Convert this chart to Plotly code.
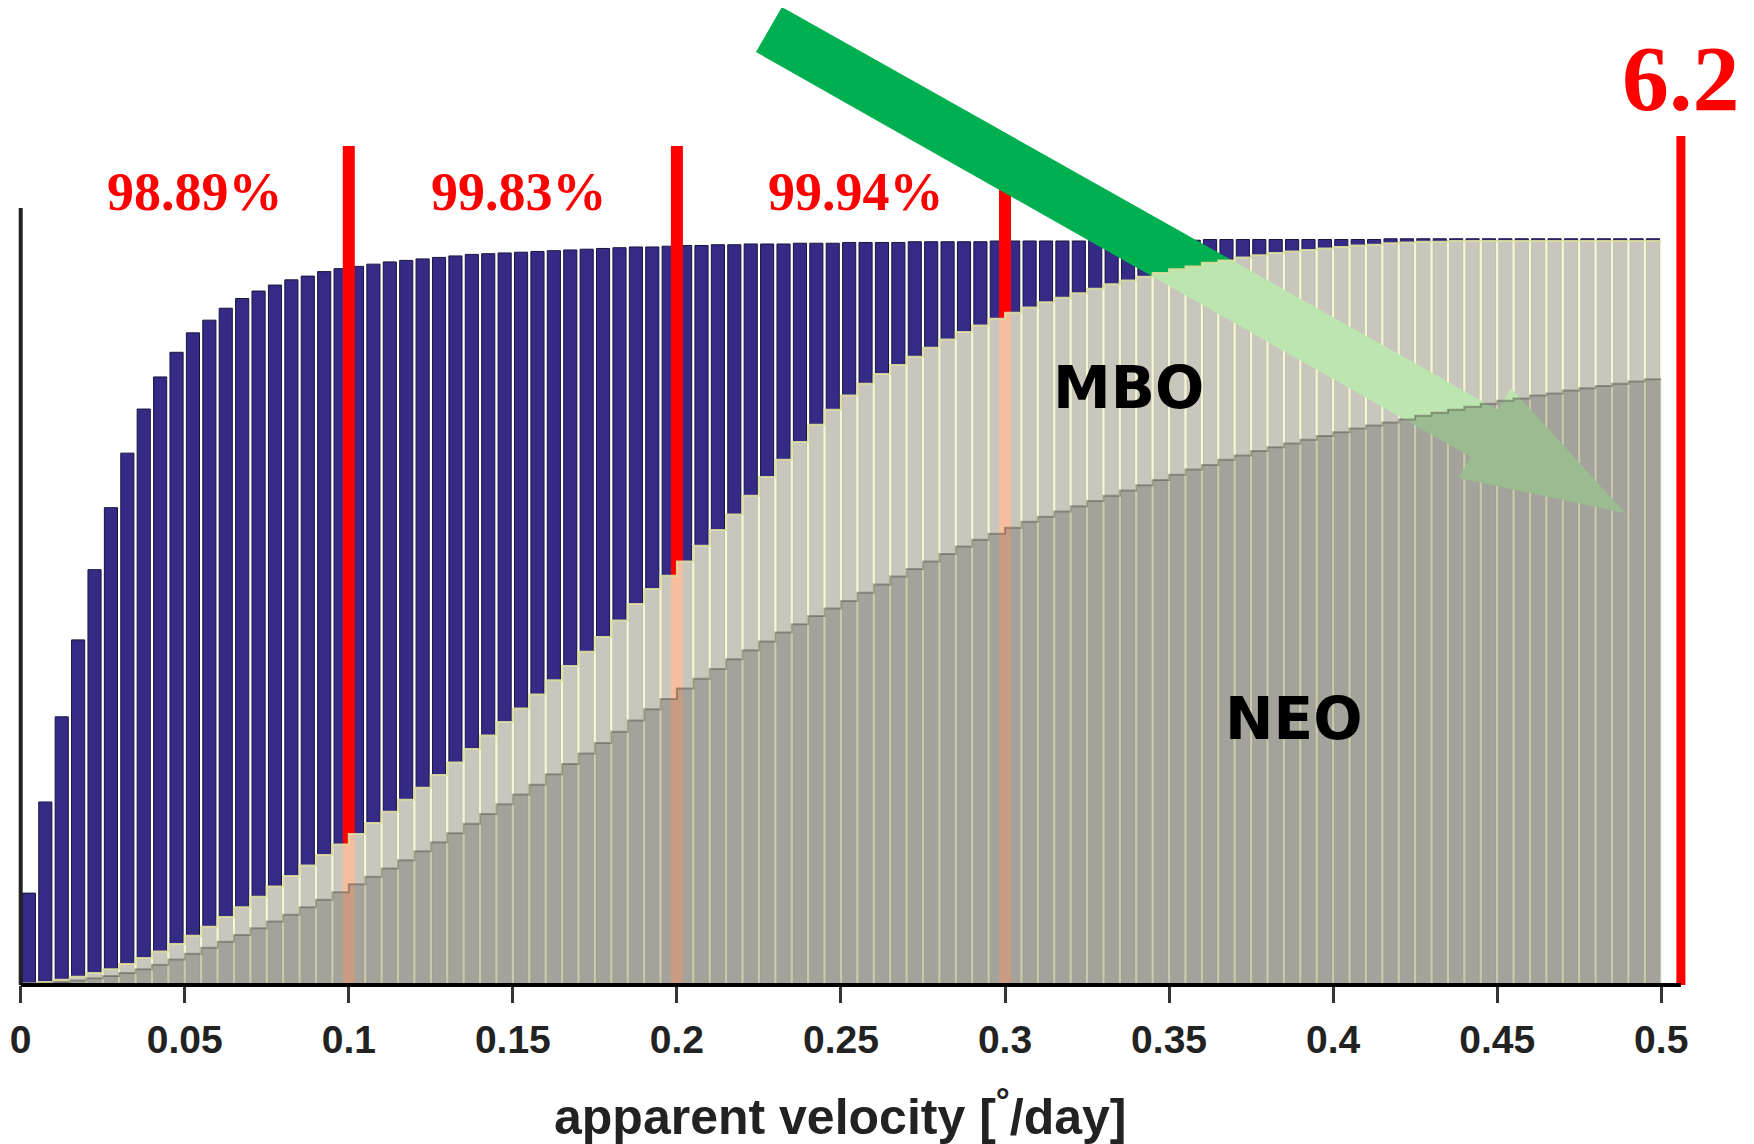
import plotly.graph_objects as go

# ---------------- data (cumulative fractions per 0.005 deg/day bin) ----------------
bin_width = 0.005
n_bins = 100

all_objects = [
    0.123, 0.245, 0.359, 0.462, 0.556, 0.639, 0.712, 0.771, 0.814, 0.847,
    0.873, 0.890, 0.906, 0.919, 0.929, 0.937, 0.944, 0.949, 0.955, 0.959,
    0.962, 0.965, 0.968, 0.970, 0.972, 0.974, 0.976, 0.978, 0.979, 0.980,
    0.981, 0.982, 0.983, 0.984, 0.985, 0.986, 0.987, 0.988, 0.988, 0.989,
    0.990, 0.990, 0.991, 0.991, 0.992, 0.992, 0.992, 0.993, 0.993, 0.993,
    0.994, 0.994, 0.994, 0.994, 0.995, 0.995, 0.995, 0.995, 0.995, 0.996,
    0.996, 0.996, 0.996, 0.996, 0.996, 0.997, 0.997, 0.997, 0.997, 0.997,
    0.997, 0.997, 0.998, 0.998, 0.998, 0.998, 0.998, 0.998, 0.998, 0.998,
    0.998, 0.998, 0.998, 0.999, 0.999, 0.999, 0.999, 0.999, 0.999, 0.999,
    0.999, 0.999, 0.999, 0.999, 0.999, 0.999, 0.999, 0.999, 0.999, 0.999,
]

mbo = [
    0.002, 0.004, 0.007, 0.011, 0.016, 0.021, 0.028, 0.036, 0.045, 0.055,
    0.066, 0.078, 0.091, 0.104, 0.118, 0.132, 0.146, 0.160, 0.174, 0.188,
    0.202, 0.217, 0.232, 0.248, 0.264, 0.281, 0.298, 0.316, 0.334, 0.352,
    0.370, 0.389, 0.408, 0.427, 0.446, 0.466, 0.488, 0.510, 0.530, 0.548,
    0.567, 0.588, 0.609, 0.630, 0.655, 0.680, 0.703, 0.727, 0.750, 0.770,
    0.789, 0.805, 0.818, 0.830, 0.841, 0.853, 0.864, 0.874, 0.883, 0.892,
    0.900, 0.907, 0.914, 0.920, 0.926, 0.932, 0.938, 0.943, 0.948, 0.953,
    0.958, 0.962, 0.967, 0.970, 0.974, 0.977, 0.980, 0.982, 0.984, 0.986,
    0.988, 0.990, 0.991, 0.993, 0.994, 0.995, 0.995, 0.996, 0.996, 0.996,
    0.996, 0.996, 0.996, 0.996, 0.996, 0.996, 0.996, 0.996, 0.996, 0.996,
]

neo = [
    0.001, 0.002, 0.004, 0.006, 0.009, 0.012, 0.016, 0.021, 0.027, 0.034,
    0.042, 0.050, 0.058, 0.067, 0.076, 0.085, 0.094, 0.104, 0.114, 0.124,
    0.135, 0.145, 0.156, 0.167, 0.179, 0.191, 0.203, 0.216, 0.229, 0.242,
    0.255, 0.268, 0.282, 0.296, 0.310, 0.324, 0.339, 0.354, 0.369, 0.383,
    0.397, 0.410, 0.423, 0.436, 0.448, 0.460, 0.472, 0.483, 0.494, 0.504,
    0.514, 0.525, 0.536, 0.547, 0.557, 0.567, 0.577, 0.587, 0.596, 0.604,
    0.612, 0.620, 0.627, 0.634, 0.641, 0.648, 0.655, 0.662, 0.669, 0.676,
    0.683, 0.690, 0.696, 0.703, 0.709, 0.715, 0.720, 0.725, 0.730, 0.735,
    0.740, 0.745, 0.749, 0.753, 0.757, 0.762, 0.766, 0.770, 0.774, 0.778,
    0.782, 0.785, 0.789, 0.792, 0.796, 0.799, 0.802, 0.805, 0.808, 0.811,
]

thresholds = [0.1, 0.2, 0.3]
threshold_labels = ["98.89%", "99.83%", "99.94%"]
cutoff = 0.506
cutoff_label = "6.2"

tick_vals = [0, 0.05, 0.1, 0.15, 0.2, 0.25, 0.3, 0.35, 0.4, 0.45, 0.5]
tick_text = ["0", "0.05", "0.1", "0.15", "0.2", "0.25", "0.3", "0.35", "0.4", "0.45", "0.5"]

# ---------------- decoration geometry (not data) ----------------
label_x = [0.053, 0.152, 0.2545]
arrow_x = [0.2320, 0.4503, 0.4542, 0.4890, 0.4381, 0.4420, 0.2241, 0.2320]
arrow_y = [1.3092, 0.7697, 0.7992, 0.6319, 0.6787, 0.7068, 1.2490, 1.3092]
line_top = 1.123
cutoff_top = 1.1365

edges = [i * bin_width for i in range(n_bins + 1)]
centers = [(i + 0.5) * bin_width for i in range(n_bins)]

fig = go.Figure()

# blue histogram bars
fig.add_trace(go.Bar(
    x=centers, y=all_objects, width=0.0040,
    marker=dict(color="#362a87", line=dict(color="#16163c", width=1)),
    hoverinfo="skip",
))

# red threshold lines (under the overlays)
for t in thresholds:
    fig.add_trace(go.Scatter(x=[t, t], y=[0, line_top], mode="lines",
                             line=dict(color="#ff0000", width=12), hoverinfo="skip"))
fig.add_trace(go.Scatter(x=[cutoff, cutoff], y=[0, cutoff_top], mode="lines",
                         line=dict(color="#ff0000", width=9), hoverinfo="skip"))

# green arrow
fig.add_trace(go.Scatter(x=arrow_x, y=arrow_y, mode="lines", fill="toself",
                         fillcolor="#00b050", line=dict(width=0, color="#00b050"),
                         hoverinfo="skip"))

# MBO overlay (stepped cumulative)
fig.add_trace(go.Scatter(
    x=edges, y=mbo + [mbo[-1]], mode="lines", line_shape="hv", fill="tozeroy",
    fillcolor="rgba(242,243,204,0.78)", line=dict(color="rgba(222,222,160,0.9)", width=2),
    hoverinfo="skip",
))
# NEO overlay
fig.add_trace(go.Scatter(
    x=edges, y=neo + [neo[-1]], mode="lines", line_shape="hv", fill="tozeroy",
    fillcolor="rgba(0,0,0,0.18)", line=dict(color="rgba(60,58,50,0.4)", width=2),
    hoverinfo="skip",
))

annotations = []
for lx, lab in zip(label_x, threshold_labels):
    annotations.append(dict(
        x=lx, y=1.061, xref="x", yref="y", text=lab,
        showarrow=False, font=dict(family="Liberation Serif", size=54, color="#ff0000", weight="bold"),
    ))
annotations.append(dict(
    x=cutoff, y=1.214, xref="x", yref="y", text=cutoff_label, showarrow=False,
    font=dict(family="Liberation Serif", size=94, color="#ff0000", weight="bold"),
))
annotations.append(dict(
    x=0.3375, y=0.799, xref="x", yref="y", text="MBO", showarrow=False,
    font=dict(family="DejaVu Sans", size=58, color="#000000", weight="bold"),
))
annotations.append(dict(
    x=0.388, y=0.356, xref="x", yref="y", text="NEO", showarrow=False,
    font=dict(family="DejaVu Sans", size=58, color="#000000", weight="bold"),
))
annotations.append(dict(
    x=0.25, y=-0.131, xref="x", yref="paper", text="apparent velocity [<sup>°</sup>/day]",
    showarrow=False, yanchor="middle",
    font=dict(family="Liberation Sans", size=50, color="#222222", weight="bold"),
))

fig.update_layout(
    width=1746, height=1136,
    margin=dict(l=0, r=0, t=0, b=159),
    paper_bgcolor="white", plot_bgcolor="white",
    barmode="overlay", showlegend=False,
    annotations=annotations,
    shapes=[
        dict(type="line", xref="x", yref="y", x0=0, x1=0, y0=0, y1=1.04,
             line=dict(color="#222222", width=4), layer="above"),
        dict(type="line", xref="x", yref="paper", x0=0, x1=cutoff, y0=0, y1=0,
             line=dict(color="#000000", width=4), layer="above"),
    ],
    xaxis=dict(
        range=[-0.00387, 0.52828], showgrid=False, zeroline=False, showline=False,
        ticks="outside", ticklen=17, tickwidth=3, tickcolor="#333333",
        tickvals=tick_vals, ticktext=tick_text, automargin=False,
        ticklabelstandoff=3,
        tickfont=dict(family="Liberation Sans", size=39, color="#222222", weight="bold"),
    ),
    yaxis=dict(range=[0, 1.3079], showgrid=False, zeroline=False, showline=False,
               showticklabels=False, ticks="", automargin=False),
)

fig.write_html("out.html")
